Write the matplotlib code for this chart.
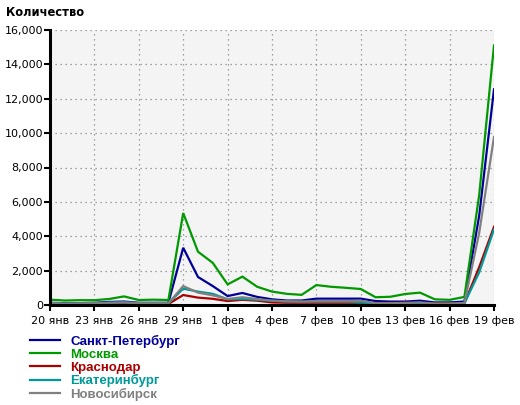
import numpy as np
import pandas as pd
import matplotlib
matplotlib.use("Agg")
import matplotlib.pyplot as plt
from matplotlib.ticker import FuncFormatter

dates = pd.date_range("2024-01-20", "2024-02-19", freq="D")
tick_labels = ["20 янв", "23 янв", "26 янв", "29 янв", "1 фев", "4 фев",
               "7 фев", "10 фев", "13 фев", "16 фев", "19 фев"]

spb = [130, 100, 110, 130, 180, 200, 130, 130, 130,
       3330, 1630, 1100, 520, 700, 470, 330, 260, 260, 370, 370, 370, 370,
       230, 200, 200, 250, 150, 150, 200, 5200, 12550]
moscow = [310, 260, 280, 280, 350, 500, 290, 310, 290,
          5350, 3100, 2450, 1200, 1650, 1060, 780, 650, 590, 1160, 1060, 1000, 930,
          450, 480, 640, 720, 330, 300, 470, 6400, 15100]
krasnodar = [50, 40, 50, 60, 90, 100, 60, 60, 60,
             580, 430, 360, 230, 300, 250, 150, 130, 130, 130, 130, 130, 130,
             120, 120, 130, 130, 100, 100, 100, 2200, 4550]
ekb = [100, 80, 90, 100, 130, 150, 100, 100, 100,
       950, 780, 650, 330, 350, 300, 250, 200, 200, 200, 200, 200, 150,
       80, 80, 100, 120, 60, 60, 100, 1900, 4400]
nsk = [100, 80, 90, 100, 130, 150, 100, 100, 100,
       1100, 720, 560, 350, 450, 350, 250, 220, 200, 220, 220, 220, 250,
       100, 100, 120, 150, 80, 80, 120, 4200, 9770]

series = [("Санкт-Петербург", spb, "#000099"),
          ("Москва", moscow, "#009900"),
          ("Краснодар", krasnodar, "#aa0000"),
          ("Екатеринбург", ekb, "#009999"),
          ("Новосибирск", nsk, "#808080")]

fig = plt.figure(figsize=(5.2, 4.05), dpi=100)
fig.patch.set_facecolor("white")
ax = fig.add_axes([50/520, 1-305/405, 444/520, 275/405])
ax.set_facecolor("#f4f4f4")

for name, vals, col in series:
    ax.plot(dates, vals, color=col, lw=1.6, label=name, solid_joinstyle="miter")

ax.set_xlim(dates[0], dates[-1])
ax.set_ylim(0, 16000)
ax.set_yticks(np.arange(0, 16001, 2000))
ax.yaxis.set_major_formatter(FuncFormatter(lambda v, p: f"{int(v):,}"))
ax.set_xticks(dates[::3])
ax.set_xticklabels(tick_labels)

ax.grid(True, color="#888888", linestyle=(0, (1, 3)), linewidth=0.9)
ax.set_axisbelow(True)
for s in ["top", "right"]:
    ax.spines[s].set_visible(False)
for s in ["left", "bottom"]:
    ax.spines[s].set_linewidth(2.2)
    ax.spines[s].set_color("black")
ax.tick_params(axis="both", direction="out", length=4, width=1.5, color="black",
               labelsize=8)
ax.tick_params(axis="x", pad=4)
ax.tick_params(axis="y", pad=1)

fig.text(6/520, 1-13/405, "Количество", fontsize=8.3, fontweight="bold",
         va="center", ha="left")

leg = fig.legend(loc="upper left", bbox_to_anchor=(30/520, 1-335/405),
                 frameon=False, labelcolor="linecolor", handlelength=2.3,
                 handletextpad=0.75, labelspacing=0.04, borderaxespad=0,
                 borderpad=0,
                 prop={"family": "Liberation Sans", "weight": "bold", "size": 9.5})

fig.savefig("out.png", dpi=100)
